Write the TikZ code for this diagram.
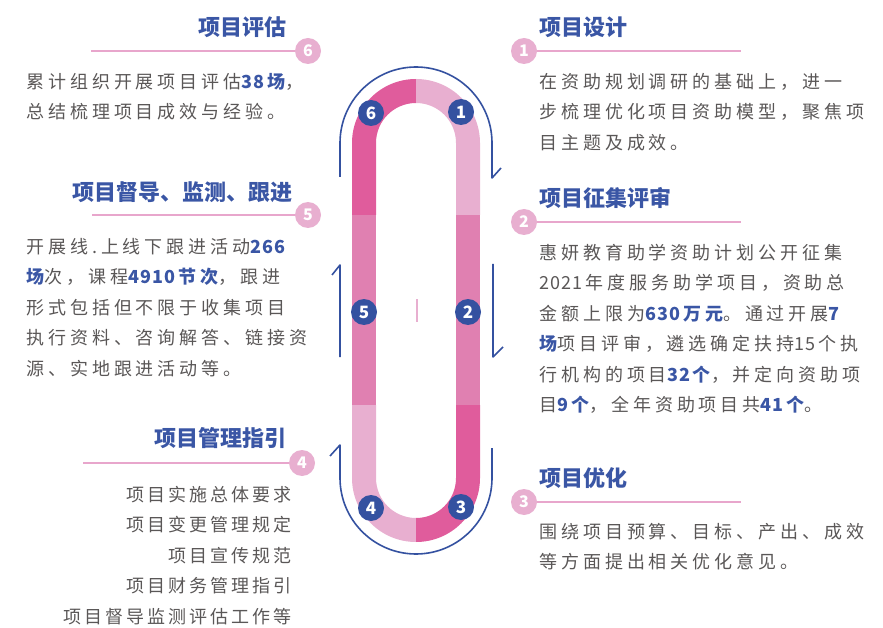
\documentclass[tikz,border=0pt]{standalone}
\usepackage{fontspec}
\usepackage{tikz}
\usetikzlibrary{positioning}
\setmainfont{Noto Sans CJK SC}
\newfontfamily\bodyfont[LetterSpace=22]{Noto Sans CJK SC}
\newfontfamily\numfont[LetterSpace=6]{Noto Sans CJK SC}
\definecolor{trackdark}{HTML}{E05C9C}
\definecolor{trackmid}{HTML}{E080B1}
\definecolor{tracklight}{HTML}{E8AFD0}
\definecolor{stepblue}{HTML}{3451A0}
\definecolor{headblue}{HTML}{3A56A5}
\definecolor{linepink}{HTML}{E8A6CC}
\definecolor{txtgray}{HTML}{5A5757}
\newcommand{\hl}[1]{{\bfseries\color{headblue}#1}}
\newcommand{\nm}[1]{{\numfont#1}\hspace{3pt}}
\tikzset{
x=1pt, y=1pt, % one unit is one pixel of the sheet
numdot/.style={circle, fill=stepblue, text=white, minimum size=26pt, inner sep=0pt, font=\bfseries\fontsize{17}{17}\selectfont}, % numbers on the track
sidedot/.style={circle, fill=tracklight, text=white, minimum size=26pt, inner sep=0pt, font=\bfseries\fontsize{16}{16}\selectfont}, % numbers at the rules
title/.style={text=headblue, inner sep=0pt, font=\bfseries\fontsize{22}{22}\selectfont},
body/.style={text=txtgray, inner sep=0pt, font=\bodyfont\fontsize{18}{30.5}\selectfont},
flow/.style={draw=stepblue, line width=1.6pt, line join=round}, % the blue turning arrows
rule/.style={draw=linepink, line width=2pt},
}
\begin{document}
\begin{tikzpicture}
\useasboundingbox (0,0) rectangle (883,-628);

% the track
\fill[trackdark] (416,-79) arc[start angle=90,end angle=180,radius=64] -- (352,-215) -- (376,-215) -- (376,-143) arc[start angle=180,end angle=90,radius=40] -- cycle;
\fill[tracklight] (416,-79) arc[start angle=90,end angle=0,radius=64] -- (480,-215) -- (456,-215) -- (456,-143) arc[start angle=0,end angle=90,radius=40] -- cycle;
\fill[trackmid] (352,-215) rectangle (376,-405);
\fill[trackmid] (456,-215) rectangle (480,-405);
\fill[tracklight] (352,-405) -- (352,-478) arc[start angle=180,end angle=270,radius=64] -- (416,-518) arc[start angle=270,end angle=180,radius=40] -- (376,-405) -- cycle;
\fill[trackdark] (480,-405) -- (480,-478) arc[start angle=0,end angle=-90,radius=64] -- (416,-518) arc[start angle=-90,end angle=0,radius=40] -- (456,-405) -- cycle;
\draw[tracklight, line width=1.5pt] (417,-299) -- (417,-322);

% arrows round the track
\coordinate (topin) at (340,-177);
\coordinate (topout) at (492,-178);
\coordinate (botin) at (492,-448);
\coordinate (botout) at (340,-445);
\draw[flow] (topin) -- (340,-143) arc[start angle=180,end angle=0,radius=76] -- (topout) -- ++(9,10);
\draw[flow] (493,-264) -- (493,-357) -- ++(10,10);
\draw[flow] (botin) -- (492,-478) arc[start angle=0,end angle=-180,radius=76] -- (botout) -- ++(-10,-11);
\draw[flow] (340,-357) -- (340,-265) -- ++(-8,-10);

\node[numdot] (n6) at (371,-113) {6};
\node[numdot] (n1) at (461,-112) {1};
\node[numdot] (n5) at (364,-312) {5};
\node[numdot] (n2) at (468,-312) {2};
\node[numdot] (n4) at (371,-508) {4};
\node[numdot] (n3) at (461,-507) {3};

% right side
\node[sidedot] (s1) at (524,-51) {1};
\node[sidedot] (s2) at (524,-222) {2};
\node[sidedot] (s3) at (524,-502) {3};
\coordinate (e1) at (741,-51);
\coordinate (e2) at (741,-222);
\coordinate (e3) at (741,-502);
\draw[rule] (s1) -- (e1);
\draw[rule] (s2) -- (e2);
\draw[rule] (s3) -- (e3);
\node[title, anchor=west] (h1) at (539,-27) {项目设计};
\node[title, anchor=west] (h2) at (539,-198) {项目征集评审};
\node[title, anchor=west] (h3) at (539,-478) {项目优化};
\node[body, align=left, anchor=north west] (b1) at (539,-73) {在资助规划调研的基础上，进一\\步梳理优化项目资助模型，聚焦项\\目主题及成效。};
\node[body, align=left, anchor=north west] (b2) at (539,-244) {惠妍教育助学资助计划公开征集\\\nm{2021}年度服务助学项目，资助总\\金额上限为\hl{\nm{630}万元}。通过开展\hl{7}\\\hl{场}项目评审，遴选确定扶持\nm{15}个执\\行机构的项目\hl{\nm{32}个}，并定向资助项\\目\hl{\nm{9}个}，全年资助项目共\hl{\nm{41}个}。};
\node[body, align=left, anchor=north west] (b3) at (539,-523) {围绕项目预算、目标、产出、成效\\等方面提出相关优化意见。};

% left side
\node[sidedot] (s6) at (308,-51) {6};
\node[sidedot] (s5) at (308,-215) {5};
\node[sidedot] (s4) at (302,-463) {4};
\coordinate (e6) at (91,-51);
\coordinate (e5) at (92,-215);
\coordinate (e4) at (83,-463);
\draw[rule] (s6) -- (e6);
\draw[rule] (s5) -- (e5);
\draw[rule] (s4) -- (e4);
\node[title, anchor=east] (h6) at (287,-27) {项目评估};
\node[title, anchor=east] (h5) at (293,-192) {项目督导、监测、跟进};
\node[title, anchor=east] (h4) at (287,-438) {项目管理指引};
\node[body, align=left, anchor=north west] (b6) at (26,-73) {累计组织开展项目评估\hl{\nm{38}场}，\\总结梳理项目成效与经验。};
\node[body, align=left, anchor=north west] (b5) at (26,-238) {开展线.上线下跟进活动\hl{\nm{266}}\\\hl{场}次，课程\hl{\nm{4910}节次}，跟进\\形式包括但不限于收集项目\\执行资料、咨询解答、链接资\\源、实地跟进活动等。};
\node[body, align=right, anchor=north east, font=\bodyfont\addfontfeature{LetterSpace=17}\fontsize{18}{30.5}\selectfont] (b4) at (292,-486) {项目实施总体要求\\项目变更管理规定\\项目宣传规范\\项目财务管理指引\\项目督导监测评估工作等};

\end{tikzpicture}
\end{document}
